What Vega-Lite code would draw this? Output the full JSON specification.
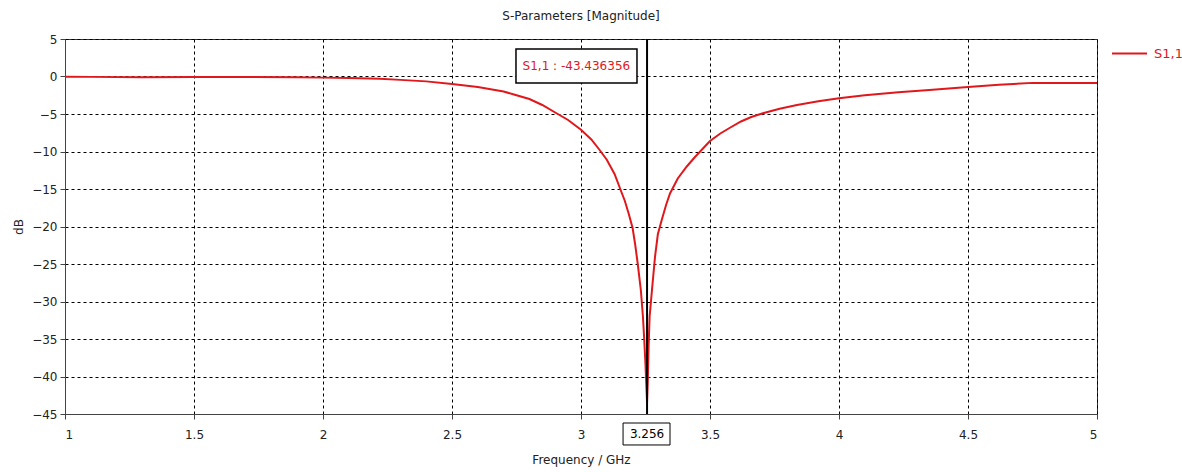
{
  "$schema": "https://vega.github.io/schema/vega-lite/v6.json",
  "width": 1032,
  "height": 375,
  "autosize": {"type": "none"},
  "padding": {"left": 65, "top": 39, "right": 85, "bottom": 58},
  "background": "white",
  "config": {
    "font": "DejaVu Sans",
    "view": {"stroke": "#333", "strokeWidth": 1},
    "axis": {
      "labelFont": "DejaVu Sans",
      "labelFontSize": 12,
      "labelColor": "#222",
      "labelOverlap": false,
      "labelBound": false,
      "titleFont": "DejaVu Sans",
      "titleFontSize": 12,
      "titleFontWeight": "normal",
      "titleColor": "#222",
      "domainColor": "#444",
      "tickColor": "#444",
      "tickSize": 5,
      "gridColor": "#000",
      "gridDash": [3, 3],
      "gridOpacity": 1,
      "gridWidth": 1
    }
  },
  "title": {
    "text": "S-Parameters [Magnitude]",
    "font": "DejaVu Sans",
    "fontSize": 12,
    "fontWeight": "normal",
    "color": "#222",
    "anchor": "middle",
    "offset": 10
  },
  "datasets": {
    "curve": [
      {"freq": 1.0, "db": -0.02, "series": "S1,1"},
      {"freq": 1.1, "db": -0.05, "series": "S1,1"},
      {"freq": 1.3, "db": -0.1, "series": "S1,1"},
      {"freq": 1.5, "db": -0.08, "series": "S1,1"},
      {"freq": 1.7, "db": -0.06, "series": "S1,1"},
      {"freq": 1.9, "db": -0.1, "series": "S1,1"},
      {"freq": 2.0, "db": -0.15, "series": "S1,1"},
      {"freq": 2.1, "db": -0.2, "series": "S1,1"},
      {"freq": 2.22, "db": -0.3, "series": "S1,1"},
      {"freq": 2.3, "db": -0.45, "series": "S1,1"},
      {"freq": 2.4, "db": -0.65, "series": "S1,1"},
      {"freq": 2.5, "db": -1.0, "series": "S1,1"},
      {"freq": 2.6, "db": -1.4, "series": "S1,1"},
      {"freq": 2.7, "db": -2.0, "series": "S1,1"},
      {"freq": 2.74, "db": -2.4, "series": "S1,1"},
      {"freq": 2.8, "db": -3.0, "series": "S1,1"},
      {"freq": 2.85, "db": -3.8, "series": "S1,1"},
      {"freq": 2.9, "db": -4.8, "series": "S1,1"},
      {"freq": 2.95, "db": -5.8, "series": "S1,1"},
      {"freq": 3.0, "db": -7.1, "series": "S1,1"},
      {"freq": 3.04, "db": -8.4, "series": "S1,1"},
      {"freq": 3.07, "db": -9.7, "series": "S1,1"},
      {"freq": 3.1, "db": -11.1, "series": "S1,1"},
      {"freq": 3.13, "db": -13.0, "series": "S1,1"},
      {"freq": 3.15, "db": -14.8, "series": "S1,1"},
      {"freq": 3.17, "db": -16.6, "series": "S1,1"},
      {"freq": 3.185, "db": -18.3, "series": "S1,1"},
      {"freq": 3.2, "db": -20.2, "series": "S1,1"},
      {"freq": 3.21, "db": -22.4, "series": "S1,1"},
      {"freq": 3.22, "db": -25.0, "series": "S1,1"},
      {"freq": 3.232, "db": -28.5, "series": "S1,1"},
      {"freq": 3.24, "db": -32.0, "series": "S1,1"},
      {"freq": 3.245, "db": -35.0, "series": "S1,1"},
      {"freq": 3.25, "db": -38.5, "series": "S1,1"},
      {"freq": 3.253, "db": -41.0, "series": "S1,1"},
      {"freq": 3.256, "db": -43.436356, "series": "S1,1"},
      {"freq": 3.259, "db": -40.5, "series": "S1,1"},
      {"freq": 3.262, "db": -36.0, "series": "S1,1"},
      {"freq": 3.266, "db": -32.0, "series": "S1,1"},
      {"freq": 3.275, "db": -28.5, "series": "S1,1"},
      {"freq": 3.287, "db": -24.0, "series": "S1,1"},
      {"freq": 3.298, "db": -21.0, "series": "S1,1"},
      {"freq": 3.314, "db": -19.0, "series": "S1,1"},
      {"freq": 3.33, "db": -17.1, "series": "S1,1"},
      {"freq": 3.345, "db": -15.6, "series": "S1,1"},
      {"freq": 3.375, "db": -13.6, "series": "S1,1"},
      {"freq": 3.41, "db": -12.0, "series": "S1,1"},
      {"freq": 3.44, "db": -10.8, "series": "S1,1"},
      {"freq": 3.47, "db": -9.7, "series": "S1,1"},
      {"freq": 3.5, "db": -8.6, "series": "S1,1"},
      {"freq": 3.54, "db": -7.6, "series": "S1,1"},
      {"freq": 3.574, "db": -6.9, "series": "S1,1"},
      {"freq": 3.62, "db": -6.0, "series": "S1,1"},
      {"freq": 3.66, "db": -5.4, "series": "S1,1"},
      {"freq": 3.705, "db": -4.9, "series": "S1,1"},
      {"freq": 3.77, "db": -4.3, "series": "S1,1"},
      {"freq": 3.837, "db": -3.8, "series": "S1,1"},
      {"freq": 3.92, "db": -3.3, "series": "S1,1"},
      {"freq": 4.0, "db": -2.9, "series": "S1,1"},
      {"freq": 4.1, "db": -2.5, "series": "S1,1"},
      {"freq": 4.23, "db": -2.1, "series": "S1,1"},
      {"freq": 4.35, "db": -1.8, "series": "S1,1"},
      {"freq": 4.5, "db": -1.4, "series": "S1,1"},
      {"freq": 4.62, "db": -1.1, "series": "S1,1"},
      {"freq": 4.75, "db": -0.85, "series": "S1,1"},
      {"freq": 4.9, "db": -0.85, "series": "S1,1"},
      {"freq": 5.0, "db": -0.85, "series": "S1,1"}
    ],
    "marker": [
      {"freq": 3.256, "db": -43.436356, "label": "S1,1 : -43.436356", "xlabel": "3.256"}
    ]
  },
  "layer": [
    {
      "data": {"name": "curve"},
      "mark": {"type": "line", "strokeWidth": 2, "interpolate": "linear"},
      "encoding": {
        "x": {
          "field": "freq",
          "type": "quantitative",
          "scale": {"domain": [1, 5], "nice": false, "zero": false},
          "axis": {
            "values": [1, 1.5, 2, 2.5, 3, 3.5, 4, 4.5, 5],
            "tickCount": 20,
            "format": "~g",
            "title": "Frequency / GHz",
            "labelPadding": 10,
            "titlePadding": 14
          }
        },
        "y": {
          "field": "db",
          "type": "quantitative",
          "scale": {"domain": [-45, 5], "nice": false, "zero": false},
          "axis": {
            "values": [-45, -40, -35, -30, -25, -20, -15, -10, -5, 0, 5],
            "tickCount": 20,
            "format": "~g",
            "title": "dB",
            "labelPadding": 3,
            "titlePadding": 6
          }
        },
        "color": {
          "field": "series",
          "type": "nominal",
          "scale": {"domain": ["S1,1"], "range": ["#e0181c"]},
          "legend": {
            "orient": "none",
            "legendX": 1046,
            "legendY": -4,
            "title": null,
            "symbolType": "stroke",
            "symbolSize": 1225,
            "symbolStrokeWidth": 2,
            "labelFont": "DejaVu Sans",
            "labelFontSize": 13,
            "labelColor": "#e0181c",
            "labelOffset": 6
          }
        }
      }
    },
    {
      "data": {"name": "marker"},
      "mark": {"type": "rule", "color": "#000", "strokeWidth": 2},
      "encoding": {
        "x": {"field": "freq", "type": "quantitative"}
      }
    },
    {
      "data": {"name": "marker"},
      "mark": {"type": "rect", "fill": "white", "stroke": "#000", "strokeWidth": 1.5},
      "encoding": {
        "x": {"datum": 2.748},
        "x2": {"datum": 3.217},
        "y": {"datum": 3.67},
        "y2": {"datum": -0.87}
      }
    },
    {
      "data": {"name": "marker"},
      "mark": {"type": "text", "color": "#e0181c", "fontSize": 12, "font": "DejaVu Sans", "align": "center", "baseline": "middle"},
      "encoding": {
        "x": {"datum": 2.982},
        "y": {"datum": 1.4},
        "text": {"field": "label"}
      }
    },
    {
      "data": {"name": "marker"},
      "mark": {"type": "rect", "fill": "white", "stroke": "#000", "strokeWidth": 1},
      "encoding": {
        "x": {"datum": 3.163},
        "x2": {"datum": 3.345},
        "y": {"datum": -46.2},
        "y2": {"datum": -49.13}
      }
    },
    {
      "data": {"name": "marker"},
      "mark": {"type": "text", "color": "#000", "fontSize": 12, "font": "DejaVu Sans", "align": "center", "baseline": "middle"},
      "encoding": {
        "x": {"field": "freq", "type": "quantitative"},
        "y": {"datum": -47.67},
        "text": {"field": "xlabel"}
      }
    }
  ]
}
